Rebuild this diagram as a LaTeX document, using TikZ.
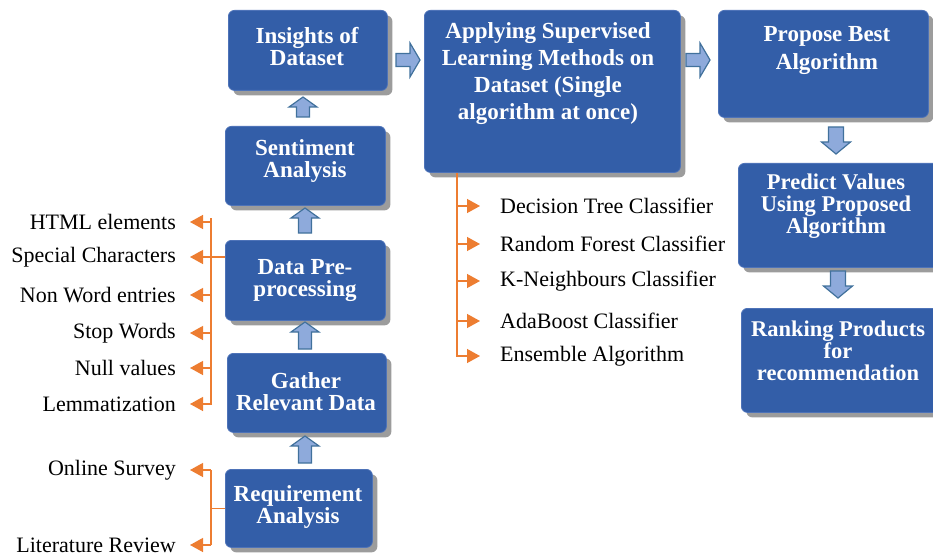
\documentclass[tikz,border=0pt]{standalone}
\usepackage{fontspec}
\setmainfont{Liberation Serif}
\usetikzlibrary{shadows,arrows.meta,calc}
\definecolor{boxblue}{HTML}{335EA8}
\definecolor{boxedge}{HTML}{4E73B8}
\definecolor{arrfill}{HTML}{8EAADB}
\definecolor{arredge}{HTML}{41719C}
\definecolor{orng}{HTML}{ED7D31}
\definecolor{shadowgray}{HTML}{9C9C9C}
\newcommand\uparrblk[3]{\draw[barr] ({#1-6.5},#2) -- ({#1-6.5},{#3+10}) -- ({#1-14},{#3+10}) -- (#1,#3) -- ({#1+14},{#3+10}) -- ({#1+6.5},{#3+10}) -- ({#1+6.5},#2) -- cycle;}
\newcommand\dnarrblk[3]{\draw[barr] ({#1-7.5},#2) -- ({#1-7.5},{#3-12}) -- ({#1-14.5},{#3-12}) -- (#1,#3) -- ({#1+14.5},{#3-12}) -- ({#1+7.5},{#3-12}) -- ({#1+7.5},#2) -- cycle;}
\newcommand\rtarrblk[3]{\draw[barr] (#1,{#3-6.5}) -- ({#2-10},{#3-6.5}) -- ({#2-10},{#3-17}) -- (#2,#3) -- ({#2-10},{#3+17}) -- ({#2-10},{#3+6.5}) -- (#1,{#3+6.5}) -- cycle;}
\begin{document}
\begin{tikzpicture}[x=1pt,y=-1pt,
 box/.style={draw=boxedge, fill=boxblue, rounded corners=6pt, line width=0.8pt, inner sep=0, anchor=north west,
   drop shadow={shadow xshift=5pt, shadow yshift=-5pt, fill=shadowgray, opacity=1}},
 btext/.style={text=white, font=\fontsize{23}{22}\selectfont\bfseries, align=center, inner sep=0},
 barr/.style={draw=arredge, fill=arrfill, line width=1.2pt, line join=miter},
 ltext/.style={font=\fontsize{22}{24}\selectfont, anchor=east, inner sep=0},
 rtext/.style={font=\fontsize{22}{24}\selectfont, anchor=west, inner sep=0},
 oline/.style={draw=orng, line width=1.3pt},
 oarr/.style={oline, -{Triangle[length=13pt,width=14pt]}}]
\useasboundingbox (0,0) rectangle (933,556);

% boxes
\node[box, minimum width=159pt, minimum height=80pt] (ins) at (228,10) {};
\node[box, minimum width=160pt, minimum height=79pt] (sent) at (225,126) {};
\node[box, minimum width=160pt, minimum height=80pt] (dp) at (225,240) {};
\node[box, minimum width=159pt, minimum height=79pt] (gat) at (227,353) {};
\node[box, minimum width=147pt, minimum height=78pt] (req) at (225,469) {};
\node[box, minimum width=256pt, minimum height=162pt] (app) at (424,10) {};
\node[box, minimum width=210pt, minimum height=107pt] (prop) at (718,10) {};
\node[box, minimum width=205pt, minimum height=104pt] (pred) at (738,163) {};
\node[box, minimum width=205pt, minimum height=104pt] (rank) at (741,308) {};

% box texts
\node[btext] (insT) at (307,47) {Insights of\\Dataset};
\node[btext] (sentT) at (305,161) {Sentiment\\Analysis};
\node[btext] (dpT) at (305,281) {Data Pre-\\processing};
\node[btext] (gatT) at (306,392) {Gather\\Relevant Data};
\node[btext] (reqT) at (298,507) {Requirement\\Analysis};
\node[btext, font=\fontsize{23}{27}\selectfont\bfseries] (appT) at (548,74) {Applying Supervised\\Learning Methods on\\Dataset (Single\\algorithm at once)};
\node[btext, font=\fontsize{23}{28}\selectfont\bfseries] (propT) at (827,51) {Propose Best\\Algorithm};
\node[btext, font=\fontsize{22.5}{22}\selectfont\bfseries] (predT) at (836,206) {Predict Values\\Using Proposed\\Algorithm};
\node[btext, font=\fontsize{22.5}{22}\selectfont\bfseries] (rankT) at (838,351) {Ranking Products\\for\\recommendation};

% block arrows
\uparrblk{303}{117}{97}
\uparrblk{305}{233}{208}
\uparrblk{305}{349}{322}
\uparrblk{305}{463}{436}
\rtarrblk{396}{420}{60}
\rtarrblk{686}{710}{60}
\dnarrblk{836}{127}{154}
\dnarrblk{838}{271}{298}

% left labels (pre-processing)
\node[ltext] (html) at (176,222) {HTML elements};
\node[ltext] (sc) at (176,257) {Special Characters};
\node[ltext] (nw) at (176,295) {Non Word entries};
\node[ltext] (sw) at (176,333) {Stop Words};
\node[ltext] (nv) at (176,368) {Null values};
\node[ltext] (lem) at (176,404) {Lemmatization};
\node[ltext] (os) at (176,470) {Online Survey};
\node[ltext] (lr) at (176,545) {Literature Review};

\coordinate (sp) at (211,0);
\draw[oline] (sc.east -| dp.west) -- (sc.east -| sp);
\draw[oline] ($(sp |- html.east)+(0,-4)$) -- ($(sp |- lem.east)+(0,1)$);
\foreach \t in {html,sc,nw,sw,nv,lem}
  \draw[oarr] (sp |- \t.east) -- ($(\t.east)+(14,0)$);

\draw[oline] (req.west) -- (req.west -| sp);
\draw[oline] (sp |- os.east) -- (sp |- lr.east);
\foreach \t in {os,lr}
  \draw[oarr] (sp |- \t.east) -- ($(\t.east)+(14,0)$);

% classifier list
\node[rtext] (dt) at (500,206) {Decision Tree Classifier};
\node[rtext] (rf) at (500,244) {Random Forest Classifier};
\node[rtext] (kn) at (500,281) {K-Neighbours Classifier};
\node[rtext] (ab) at (500,321) {AdaBoost Classifier};
\node[rtext] (en) at (500,356) {Ensemble Algorithm};

\coordinate (sp2) at (457,0);
\draw[oline] (app.south -| sp2) -- ($(sp2 |- en.west)+(0,1)$);
\foreach \t in {dt,rf,kn,ab,en}
  \draw[oarr] (sp2 |- \t.west) -- ($(\t.west)+(-20,0)$);
\end{tikzpicture}
\end{document}
